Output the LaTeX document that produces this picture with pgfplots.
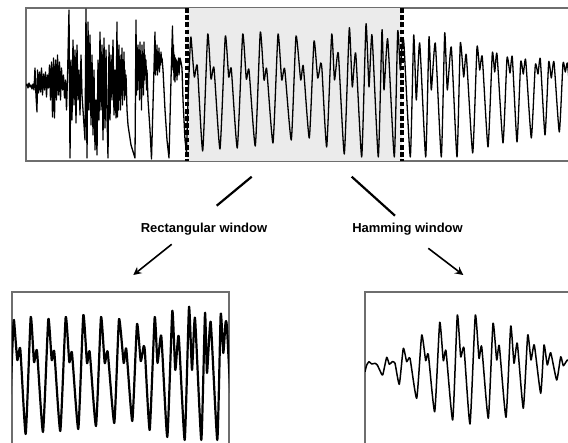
\documentclass[border=0pt]{standalone}
\usepackage{pgfplots}
\pgfplotsset{compat=1.18}
\usepackage{pgfplotstable}
\usepackage{fontspec}
\setmainfont{Liberation Sans}
\definecolor{frame}{HTML}{6E6E6E}
\definecolor{shade}{HTML}{EBEBEB}

\pgfplotstableread{
x y
26 86
27 84
28 88
29 83
30 87
31 85
32 89
33 84
34 90
35 68
36 96
37 112
37.5 70
38.5 93
39.5 72
40.5 92
41.5 68
42.5 95
43.5 74
44.5 90
45.5 72
46.5 97
47.5 75
48.5 88
49.5 65
50.5 100
51.5 62
52.5 117
53.5 58
54.5 118
55.5 60
56.5 100
57.5 55
58.5 95
59.5 62
60.5 100
61.5 68
62.5 90
63.5 75
64.5 98
65.5 80
66.5 110
67.5 78
69 10
70 158
71 60
72 120
73 40
74 105
75 50
76 123
77 45
78 100
79 70
80 115
81 55
82 95
83 110
85 140
86 9
87 158
88 22
89 110
90 35
91 125
92 55
93 135
94 70
95 150
96 100
97 155
98 60
99 120
100 32
101 110
102 45
103 140
104 38
105 128
106 50
107 115
108 158
109 45
110 120
111 55
112 100
113 40
114 115
115 70
116 118
117 22
117.5 117
118 50
118.5 110
119 45
119.5 100
120 60
120.5 110
121 55
121.5 95
122 48
122.5 105
123 60
123.5 90
124 52
124.5 100
125 70
125.5 95
126 75
127 110
128 125
131 145
135 158
136 20
136.5 95
137 48
137.5 90
138 45
138.5 80
139 50
139.5 100
140 42
140.5 85
141 55
141.5 110
142 45
142.5 75
143 60
143.5 95
144 42
144.5 80
145 55
145.5 75
146 60
146.5 90
147 70
148 100
150 130
151.5 159
155 32
155.5 75
156 50
156.5 70
157 45
157.5 75
158 52
158.5 68
159 48
159.5 72
160 55
160.5 65
161 52
161.5 62
162 58
163 70
165 110
167 140
169 158
171 80
172.5 26
173 70
173.5 45
174 80
174.5 55
175 82
175.5 58
176 75
176.5 60
177 80
177.5 62
178 72
178.5 58
179 75
180 58
181 62
182 68
183 100
185 140
186.5 152
188 100
190 50
191 37
194.3 77
197.3 66
202.7 151
207.7 34
211 79
214 68
220 149
225.3 36
228.7 77
231.3 69
237.3 148
242.7 34
246.3 79
249 70
255.3 146
260.3 32
264 80
266.7 69
273 143
278 34
281.7 80
284.7 69
291.3 140
296 36
300.7 80
303.3 66
309.3 138
314 41
317.7 78
320.7 63
322 70
326.7 147
331.7 34
334.5 80
338.3 53
344.3 154
349.3 28
352.3 87
355.7 53
361.7 157
366 24
369 87
372 35
378.3 157
382 30
384 90
387.7 39
394.3 157
397.7 31
400.3 70
402.5 40
404 45
410.3 157
413.7 35
416.3 100
419.7 43
425.7 157
429 37
431.3 90
435.3 43
441.3 157
444.7 33
447.3 90
451.3 47
457 157
460.3 43
463.7 77
466.3 55
472.7 153
477 47
479.7 70
482.3 57
488 147
492.3 53
494.7 72
497 54
503 143
507 58
510 73
512.3 57
517 142
520.7 62
523.3 74
525.7 60
531.3 138
535.3 65
538 74
540.3 59
545 135
548.7 62
551.3 78
554 62
559.3 132
563 63
565.3 72
567.3 63
570 90
}\topsig

\pgfplotstableread{
x y
365 371.7
366.7 365
369 361.7
371.7 364
375 363.3
377.3 365
380 370.7
382.7 375
386.7 357.3
389.3 364.3
392.3 361.7
395 363.3
399.3 384.3
403.3 348.3
406.7 361.7
410 358.3
416.7 398.3
421.7 335
425.7 360.7
428.3 354.3
434.7 411.7
439.7 322.3
443.3 360.7
446 351
452.7 420
457.3 315
460.7 356.7
464 348.3
470 424
475.3 315
479 358.3
481.7 346.7
488.3 418.3
493 323.3
496.7 360
499.3 346
506 417.3
510.7 326
514 363.3
517.3 343.3
523.3 408.3
527.7 335
531 360
534.3 345
540.7 393.3
544 345
547.3 365
550.7 352.7
556.7 380
560.7 356.7
563.3 365.7
567.3 360
570 362
}\hamsig

\begin{document}
\begin{tikzpicture}[x=0.5pt,y=-0.5pt]
\begin{scope}
\clip (0,0) rectangle (568,443);
% top signal
\begin{axis}[at={(26,8)}, anchor=north west, scale only axis,
  width=287pt, height=76.5pt,
  xmin=26, xmax=600, ymin=8, ymax=161, y dir=reverse,
  ticks=none, axis line style={frame, line width=0.75pt}]
\addplot[fill=shade, draw=none] coordinates {(187,8) (402,8) (402,161) (187,161)} -- cycle;
\addplot[black, line width=0.65pt, line join=round, restrict x to domain=26:187] table {\topsig};
\addplot[black, line width=0.65pt, line join=round, smooth, tension=0.3, restrict x to domain=186:600] table {\topsig};
\addplot[black, line width=1.6pt, dash pattern=on 2.4pt off 1.2pt] coordinates {(187,8) (187,161)};
\addplot[black, line width=1.6pt, dash pattern=on 2.4pt off 1.2pt] coordinates {(402,8) (402,161)};
\end{axis}
% rectangular window
\begin{axis}[at={(12,292)}, anchor=north west, scale only axis,
  width=108.5pt, height=80.5pt,
  xmin=189, xmax=406, ymin=9, ymax=170, y dir=reverse,
  ticks=none, axis line style={frame, line width=0.75pt}]
\addplot[black, line width=1.1pt, line join=round, smooth, tension=0.3, restrict x to domain=186:420] table {\topsig};
\end{axis}
% hamming window
\begin{axis}[at={(365,292)}, anchor=north west, scale only axis,
  width=108.5pt, height=84pt,
  xmin=365, xmax=582, ymin=292, ymax=460, y dir=reverse,
  ticks=none, axis line style={frame, line width=0.75pt}]
\addplot[black, line width=0.75pt, line join=round, smooth, tension=0.3] table {\hamsig};
\end{axis}
% connectors
\draw[black, line width=1.1pt] (251.7,176.7) -- (216.7,205.7);
\draw[black, line width=1.1pt] (351.7,176.7) -- (395,215.7);
\draw[black, line width=0.8pt, -stealth] (171.7,244.3) -- (133.3,275);
\draw[black, line width=0.8pt, -stealth] (428.3,248.3) -- (463.3,275);
\node[font=\bfseries\fontsize{6.5}{7.8}\selectfont] at (204,229) {Rectangular window};
\node[font=\bfseries\fontsize{6.5}{7.8}\selectfont] at (407.5,229) {Hamming window};
\end{scope}
\pgfresetboundingbox
\useasboundingbox (0,0) rectangle (568,443);
\end{tikzpicture}
\end{document}
